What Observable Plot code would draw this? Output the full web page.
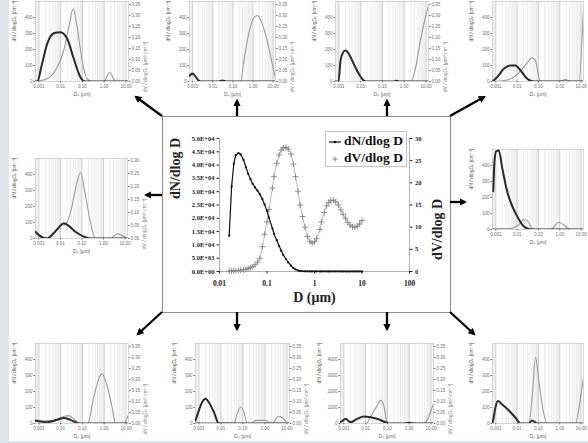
<!DOCTYPE html>
<html><head><meta charset="utf-8">
<script src="https://cdn.jsdelivr.net/npm/d3@7"></script>
<script src="https://cdn.jsdelivr.net/npm/@observablehq/plot@0.6"></script>
<style>
html,body{margin:0;padding:0;background:#fff;}
#fig{position:relative;width:588px;height:443px;background:#fff;overflow:hidden;}
#stripL{position:absolute;left:0;top:0;width:9px;height:443px;background:#dfe5ec;}
#stripB{position:absolute;left:0;top:441px;width:588px;height:2px;background:#dfe5ec;}
#box{position:absolute;left:162px;top:116px;width:287px;height:195px;border:1px solid #8d8d8d;}
</style></head><body>
<div id="fig"><div id="stripL"></div><div id="stripB"></div><div id="box"></div></div>
<script>
// ---------------- central chart data ----------------
const centralD = [0.016,0.018,0.020,0.022,0.025,0.028,0.032,0.036,0.040,0.045,0.050,0.056,0.063,0.071,0.080,0.089,0.10,0.11,0.13,0.14,0.16,0.18,0.20,0.22,0.25,0.28,0.32,0.36,0.40,0.45,0.50,0.56,0.63,0.71,0.80,0.89,1.0,1.1,1.3,1.4,1.6,1.8,2.0,2.2,2.5,2.8,3.2,3.6,4.0,4.5,5.0,5.6,6.3,7.1,8.0,8.9,10];
const centralN_e4 = [1.35,3.2,4.05,4.38,4.45,4.4,4.2,3.92,3.68,3.47,3.3,3.16,3.04,2.9,2.72,2.52,2.28,2.02,1.62,1.42,1.18,0.96,0.78,0.62,0.47,0.34,0.22,0.13,0.075,0.04,0.02,0.012,0.008,0.006,0.005,0.004,0.004,0.003,0.003,0.003,0.003,0.002,0.002,0.002,0.002,0.002,0.002,0.002,0.001,0.001,0.001,0.001,0.001,0.001,0.001,0.001,0.001];
const centralV = [0.1,0.12,0.15,0.18,0.23,0.3,0.4,0.5,0.65,0.85,1.1,1.5,2.1,3.0,5.6,8.4,11.2,14.0,18.8,21.4,24.4,26.3,27.4,27.9,28.0,27.6,26.5,24.2,21.4,18.1,15.0,12.4,10.0,7.9,6.8,6.4,6.7,7.4,9.5,11.2,13.3,14.8,15.6,16.0,16.1,15.7,15.0,13.9,12.9,12.0,11.1,10.5,10.1,10.0,10.2,10.7,11.5];
const centralXTicks = [0.01,0.1,1,10,100];
const centralXLabels = ["0.01","0.1","1","10","100"];
const centralNTicks = [0,5000,10000,15000,20000,25000,30000,35000,40000,45000,50000];
const centralVTicks = [0,5,10,15,20,25,30];
const seriesNames = ["dN/dlog D","dV/dlog D"];

// ---------------- small panels data: [D (µm), value] ----------------
const smallXTicks = [0.001,0.01,0.1,1,10];
const smallXLabels = ["0.001","0.01","0.10","1.00","10.00"];
const smallYTicks = [0,100,200,300,400];
const smallYTicksBig = [0,1000,2000,3000,4000];
const smallRTicks = [0,0.05,0.10,0.15,0.20,0.25,0.30,0.35];
const smallRTicks6 = [0,0.05,0.10,0.15,0.20,0.25,0.30];
const smallXTitle = "Dₚ [μm]";
const smallNTitle = "dN / dlogDₚ [cm⁻³]";
const smallVTitle = "dV / dlogDₚ [μm³ cm⁻³]";

const p1N = [[0.0007,0],[0.00084,0],[0.0014,111],[0.0024,235],[0.0048,302],[0.0098,308],[0.020,267],[0.040,142],[0.081,27],[0.14,0],[0.5,0],[13,0]];
const p1V = [[0.0007,0],[0.0024,0.012],[0.0069,0.065],[0.0139,0.141],[0.0236,0.247],[0.0375,0.331],[0.057,0.247],[0.097,0.095],[0.165,0.012],[0.28,0],[0.95,0],[1.79,0.042],[3.27,0],[13,0]];
const p2N = [[0.0007,35],[0.001,50],[0.0014,30],[0.002,6],[0.003,0],[0.02,0],[0.03,6],[0.045,0],[13,0]];
const p2V = [[0.0007,0],[0.24,0],[0.35,0.095],[0.61,0.218],[1.1,0.291],[1.66,0.300],[2.84,0.262],[5.0,0.186],[8.9,0.082],[13,0.012]];
const p3N = [[0.0007,0],[0.00096,0],[0.00119,131],[0.00157,183],[0.002,194],[0.00285,173],[0.0048,110],[0.0082,48],[0.0139,6],[0.02,0],[0.3,0],[0.45,5],[0.6,0],[13,0]];
const p3V = [[0.0007,0],[1.93,0],[3.27,0.06],[5.5,0.186],[9.4,0.293],[13,0.346]];
const p4N = [[0.0007,0],[0.00116,27],[0.00237,79],[0.0049,100],[0.0084,100],[0.0145,69],[0.0298,17],[0.061,0],[13,0]];
const p4V = [[0.0007,0],[0.0025,0.004],[0.007,0.02],[0.0206,0.065],[0.0354,0.095],[0.051,0.108],[0.073,0.095],[0.104,0.02],[0.135,0],[0.9,0],[1.87,0.009],[3.2,0],[7.9,0],[13.5,0.382]];
const p5N = [[0.0007,42],[0.001,21],[0.00244,0],[0.0049,34],[0.0084,69],[0.0144,96],[0.0245,79],[0.05,42],[0.122,12],[0.25,0],[13,0]];
const p5V = [[0.0007,0],[0.0017,0],[0.0049,0.021],[0.0101,0.049],[0.0173,0.055],[0.0294,0.1],[0.05,0.19],[0.0857,0.254],[0.146,0.164],[0.25,0.062],[0.425,0],[2.1,0],[4.3,0.018],[10.5,0.004],[13,0]];
const p6N = [[0.00076,239],[0.00087,427],[0.00105,489],[0.00138,494],[0.002,385],[0.0034,239],[0.0059,146],[0.0101,83],[0.0173,31],[0.0298,6],[0.051,0],[13,0]];
const p6V = [[0.0007,0.004],[0.005,0.004],[0.012,0.023],[0.0206,0.045],[0.0318,0.038],[0.051,0.004],[0.1,0],[0.37,0],[0.91,0.033],[1.87,0.015],[3.2,0],[13,0]];
const p7N = [[0.0007,19],[0.0024,8],[0.0069,23],[0.0139,35],[0.028,23],[0.068,0],[13,0]];
const p7V = [[0.0007,0.011],[0.005,0.015],[0.0139,0.032],[0.0236,0.036],[0.048,0.014],[0.081,0],[0.175,0],[0.33,0.12],[0.56,0.203],[0.80,0.226],[1.27,0.181],[2.3,0.074],[3.27,0],[7.9,0],[13.5,0.045]];
const p8N = [[0.0007,19],[0.00099,81],[0.0014,133],[0.002,154],[0.0028,133],[0.0048,71],[0.008,0],[13,0]];
const p8V = [[0.0007,0.004],[0.02,0.002],[0.0385,0],[0.055,0.045],[0.078,0.074],[0.11,0.052],[0.157,0],[0.25,0],[0.37,0.014],[1.06,0.014],[1.8,0],[2.6,0.007],[3.85,0.032],[7,0.022],[10.3,0],[13,0]];
const p9N = [[0.0007,100],[0.00084,144],[0.00119,294],[0.002,81],[0.0041,294],[0.0082,438],[0.0166,394],[0.034,294],[0.081,81],[0.138,0],[0.5,0],[1,40],[2,0],[13,0]];
const p9V = [[0.0007,0],[0.01,0],[0.02,0.044],[0.034,0.082],[0.048,0.105],[0.068,0.082],[0.1,0],[4.6,0],[13,0.091]];
const p10N = [[0.0007,0],[0.0008,40],[0.00097,102],[0.00124,140],[0.002,119],[0.0041,81],[0.0084,36],[0.0145,0],[0.035,0],[0.051,19],[0.088,0],[13,0]];
const p10V = [[0.0007,0],[0.0354,0],[0.051,0.12],[0.073,0.302],[0.104,0.196],[0.179,0.044],[0.26,0],[5.5,0],[9.5,0.12],[16,0.273]];

// ---------------- layout ----------------
const fig = document.getElementById("fig");
function place(el, left, top) {
  el.style.position = "absolute"; el.style.left = left + "px"; el.style.top = top + "px";
  fig.appendChild(el);
}
const serif = "'Liberation Serif','DejaVu Serif',serif";
const sans = "'Liberation Sans','DejaVu Sans',Arial,sans-serif";

// rightCut: the panel's right axis lies beyond the figure's edge (as in the reference)
const panels = [
  {x:35,  w:93, top:1,     yMax:500,  yTicks:smallYTicks,    rMax:0.364, rTicks:smallRTicks,  N:p1N,  V:p1V},
  {x:189, w:86, top:1,     yMax:500,  yTicks:smallYTicks,    rMax:0.364, rTicks:smallRTicks,  N:p2N,  V:p2V},
  {x:335, w:93, top:1,     yMax:500,  yTicks:smallYTicks,    rMax:0.364, rTicks:smallRTicks,  N:p3N,  V:p3V},
  {x:492, w:91, top:1,     yMax:500,  yTicks:smallYTicks,    rMax:0.364, rTicks:smallRTicks,  N:p4N,  V:p4V, rightCut:true},
  {x:35,  w:92, top:158,   yMax:500,  yTicks:smallYTicks,    rMax:0.308, rTicks:smallRTicks6, N:p5N,  V:p5V},
  {x:492, w:91, top:148.5, yMax:500,  yTicks:smallYTicks,    rMax:0.364, rTicks:smallRTicks,  N:p6N,  V:p6V, rightCut:true},
  {x:35,  w:93, top:343,   yMax:500,  yTicks:smallYTicks,    rMax:0.364, rTicks:smallRTicks,  N:p7N,  V:p7V},
  {x:195, w:94, top:343,   yMax:500,  yTicks:smallYTicks,    rMax:0.364, rTicks:smallRTicks,  N:p8N,  V:p8V},
  {x:340, w:93, top:343,   yMax:5000, yTicks:smallYTicksBig, rMax:0.364, rTicks:smallRTicks,  N:p9N,  V:p9V},
  {x:492, w:91, top:343,   yMax:500,  yTicks:smallYTicks,    rMax:0.364, rTicks:smallRTicks,  N:p10N, V:p10V, rightCut:true}
];
const decades = [0.0001,0.001,0.01,0.1,1];
const mults = [2,3,4,5,6,7,8,9];
const minorGrid = decades.flatMap(d => mults.map(m => +(d*m).toPrecision(2))).filter(v => v > 0.0007 && v < 13);
const SM = {mL:27, mR:22, mT:2, mB:20, h:80};

function smallPanel(p) {
  const k = p.yMax / p.rMax;
  const rPos = p.rTicks.map(t => t * k);
  const N = p.N.map(([D, n]) => ({D, n}));
  const V = p.V.map(([D, v]) => ({D, v: v * k}));
  const mR = p.rightCut ? 4 : SM.mR;
  const marks = [
    Plot.ruleX(minorGrid, {stroke: "#e3e3e3", strokeWidth: 0.7}),
    Plot.ruleX(smallXTicks, {stroke: "#c2c2c2", strokeWidth: 0.8}),
    Plot.frame({stroke: "#cbcbcb", strokeWidth: 0.8}),
    Plot.axisX(smallXTicks, {tickSize: 1.5, tickPadding: 1.5, tickFormat: d => smallXLabels[smallXTicks.indexOf(d)], label: null}),
    Plot.axisY(p.yTicks, {tickSize: 1.5, tickPadding: 1.5, tickFormat: d => String(d), label: null}),
    Plot.text([smallXTitle], {frameAnchor: "bottom", dy: 14, fill: "#666", fontSize: 5}),
    Plot.text([smallNTitle], {frameAnchor: "left", dx: -21, rotate: -90, fill: "#555", fontSize: 5})
  ];
  if (!p.rightCut) {
    marks.push(
      Plot.axisY(rPos, {anchor: "right", tickSize: 1.5, tickPadding: 1.5, tickFormat: d => (d / k).toFixed(2), label: null}),
      Plot.text([smallVTitle], {frameAnchor: "right", dx: 17, rotate: -90, fill: "#888", fontSize: 5})
    );
  }
  marks.push(
    Plot.line(V, {x: "D", y: "v", stroke: "#9a9a9a", strokeWidth: 1.1, curve: "monotone-x", clip: true}),
    Plot.line(N, {x: "D", y: "n", stroke: "#2a2a2a", strokeWidth: 2, curve: "monotone-x", clip: true})
  );
  const chart = Plot.plot({
    width: SM.mL + p.w + mR, height: SM.mT + SM.h + SM.mB,
    marginLeft: SM.mL, marginRight: mR, marginTop: SM.mT, marginBottom: SM.mB,
    x: {type: "log", domain: [0.0007, 13]},
    y: {domain: [0, p.yMax]},
    style: {fontFamily: sans, fontSize: "4.5px", color: "#707070", background: "transparent"},
    marks
  });
  place(chart, p.x - SM.mL, p.top - SM.mT);
}
panels.forEach(smallPanel);

// ---------------- central chart ----------------
const kV = 50000 / 30;
const centralRows = centralD.map((D, i) => ({D, n: centralN_e4[i] * 1e4, v: centralV[i] * kV}));
function fmtE(d) {
  const [m, e] = d.toExponential(1).split("e");
  return m + "E" + e[0] + e.slice(1).padStart(2, "0");
}
const central = Plot.plot({
  width: 288, height: 196,
  marginLeft: 57, marginRight: 41, marginTop: 22, marginBottom: 41,
  x: {type: "log", domain: [0.01, 100]},
  y: {domain: [0, 50000]},
  style: {fontFamily: serif, fontWeight: "bold", fontSize: "6.5px", color: "#222", background: "transparent"},
  marks: [
    Plot.ruleX([0.01, 100], {stroke: "#9a9a9a", strokeWidth: 0.8}),
    Plot.ruleY([0], {stroke: "#9a9a9a", strokeWidth: 0.8}),
    Plot.axisY(centralNTicks, {tickSize: 2.5, tickPadding: 2.5, tickFormat: fmtE, label: null}),
    Plot.axisY(centralVTicks.map(t => t * kV), {anchor: "right", tickSize: 2.5, tickPadding: 3, tickFormat: d => String(Math.round(d / kV)), label: null}),
    Plot.axisX(centralXTicks, {tickSize: 2.5, tickPadding: 7, fontSize: 7.5, tickFormat: d => centralXLabels[centralXTicks.indexOf(d)], label: null}),
    Plot.text(["dN/dlog D"], {frameAnchor: "left", dx: -44, dy: -6, rotate: -90, fontSize: 14}),
    Plot.text(["dV/dlog D"], {frameAnchor: "right", dx: 28, dy: -6, rotate: -90, fontSize: 14}),
    Plot.text(["D (μm)"], {frameAnchor: "bottom", dy: 30, fontSize: 14}),
    Plot.line(centralRows, {x: "D", y: "v", stroke: "#a0a0a0", strokeWidth: 0.7}),
    Plot.dot(centralRows, {x: "D", y: "v", symbol: "plus", r: 2.1, stroke: "#858585", strokeWidth: 0.9}),
    Plot.line(centralRows, {x: "D", y: "n", stroke: "#111", strokeWidth: 1.2}),
    Plot.dot(centralRows, {x: "D", y: "n", symbol: "square", r: 1.1, fill: "#111", stroke: "none"})
  ]
});
place(central, 162, 116);

// legend
const leg = d3.create("div")
  .style("position", "absolute").style("left", "325px").style("top", "131px")
  .style("width", "80px").style("height", "34px")
  .style("border", "1px solid #c4c4c4").style("background", "#fff")
  .style("font", "bold 13.5px " + serif).style("color", "#111");
seriesNames.forEach((name, i) => {
  const row = leg.append("div").style("position", "absolute").style("left", "2px").style("top", (i * 17 + 1) + "px")
    .style("height", "16px").style("line-height", "16px").style("white-space", "nowrap");
  const s = row.append("svg").attr("width", 14).attr("height", 10).style("vertical-align", "middle").style("margin-right", "2px");
  if (i === 0) {
    s.append("line").attr("x1", 1).attr("x2", 13).attr("y1", 5).attr("y2", 5).attr("stroke", "#111").attr("stroke-width", 1.2);
    s.append("rect").attr("x", 5.9).attr("y", 3.9).attr("width", 2.2).attr("height", 2.2).attr("fill", "#111");
  } else {
    s.append("path").attr("d", "M7,2.5V7.5M4.5,5H9.5").attr("stroke", "#858585").attr("stroke-width", 1);
  }
  row.append("span").text(name);
});
fig.appendChild(leg.node());

// arrows from the central box to the surrounding panels
const bx = {x0: 162, y0: 116, x1: 450, y1: 312};
const arrowLayout = [
  [bx.x0, bx.y0, 136, 97], [237, bx.y0, 237, 101], [387, bx.y0, 387, 101], [bx.x1, bx.y0, 484, 97],
  [bx.x0, 195, 146, 195], [bx.x1, 202, 465, 202],
  [bx.x0, bx.y1, 138, 334], [237, bx.y1, 237, 329], [387, bx.y1, 387, 329], [bx.x1, bx.y1, 474, 334]
];
const ov = d3.create("svg").attr("width", 588).attr("height", 443)
  .style("position", "absolute").style("left", "0px").style("top", "0px").style("pointer-events", "none");
ov.append("defs").append("marker").attr("id", "ah").attr("viewBox", "0 0 10 10")
  .attr("refX", 7).attr("refY", 5).attr("markerWidth", 3.2).attr("markerHeight", 3.2).attr("orient", "auto")
  .append("path").attr("d", "M0,0L10,5L0,10z").attr("fill", "#000");
arrowLayout.forEach(([x1, y1, x2, y2]) => {
  ov.append("line").attr("x1", x1).attr("y1", y1).attr("x2", x2).attr("y2", y2)
    .attr("stroke", "#000").attr("stroke-width", 2.3).attr("marker-end", "url(#ah)");
});
fig.appendChild(ov.node());
</script>
</body></html>
